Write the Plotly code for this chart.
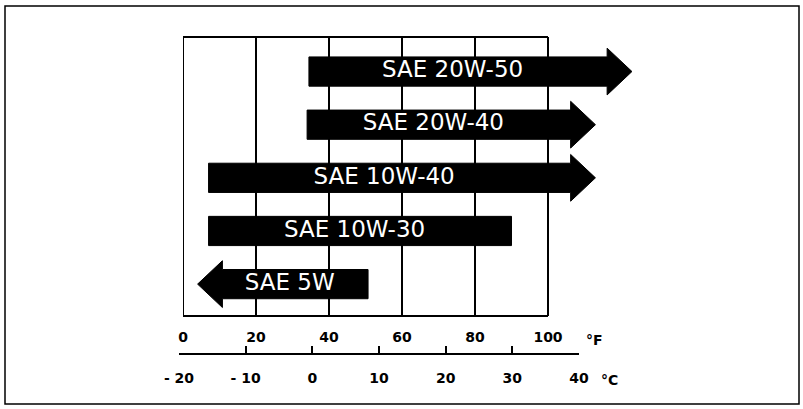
import plotly.graph_objects as go

# ---------------- data ----------------
grades = ["SAE 20W-50", "SAE 20W-40", "SAE 10W-40", "SAE 10W-30", "SAE 5W"]
low_F = [34.5, 34, 7, 7, 4]          # lower end of range (°F)
high_F = [123, 113, 113, 90, 50.7]   # upper end of range (°F)
open_low = [False, False, False, False, True]   # arrow pointing to colder
open_high = [True, True, True, False, False]    # arrow pointing to warmer

f_ticks = [0, 20, 40, 60, 80, 100]
f_labels = ["0", "20", "40", "60", "80", "100"]
c_ticks = [-20, -10, 0, 10, 20, 30, 40]
c_labels = ["- 20", "- 10", "0", "10", "20", "30", "40"]

# ---------------- style / geometry ----------------
W, H = 803, 409
FONT = "DejaVu Sans"
HEAD = 6.8      # arrow head length in °F
BODY_H = 0.275  # half height of bar (row units)
HEAD_H = 0.44   # half height of head (row units)

def px(x):
    return x / W

def py(y):
    return 1 - y / H

fig = go.Figure()

n = len(grades)
rows = list(range(n - 1, -1, -1))

for g, lo, hi, ol, oh, r in zip(grades, low_F, high_F, open_low, open_high, rows):
    b_lo = lo + HEAD if ol else lo
    b_hi = hi - HEAD if oh else hi
    xs = [b_lo, b_hi]
    ys = [r + BODY_H, r + BODY_H]
    if oh:
        xs += [b_hi, hi, b_hi]
        ys += [r + HEAD_H, r, r - HEAD_H]
    xs += [b_hi, b_lo]
    ys += [r - BODY_H, r - BODY_H]
    if ol:
        xs += [b_lo, lo, b_lo]
        ys += [r - HEAD_H, r, r + HEAD_H]
    xs.append(xs[0])
    ys.append(ys[0])
    fig.add_trace(go.Scatter(
        x=xs, y=ys, mode="lines", fill="toself", fillcolor="black",
        line=dict(color="black", width=1), hoverinfo="skip", showlegend=False,
    ))
    fig.add_trace(go.Scatter(
        x=[(b_lo + b_hi) / 2 - 1.5], y=[r], mode="text", text=[g],
        textfont=dict(color="white", size=23, family=FONT),
        textposition="middle center", hoverinfo="skip", showlegend=False,
    ))

# celsius scale (invisible trace so the axis renders)
fig.add_trace(go.Scatter(x=c_ticks, y=[0] * len(c_ticks), mode="markers",
                         marker=dict(opacity=0), xaxis="x2", yaxis="y2",
                         hoverinfo="skip", showlegend=False))

x_right_px = 645
f_scale = (548 - 183) / (f_ticks[-1] - f_ticks[0])
TICKFONT = dict(family=FONT, size=14, color="black", weight="bold")

fig.update_layout(
    template="none",
    width=W, height=H, autosize=False,
    margin=dict(l=0, r=0, t=0, b=0, pad=0),
    paper_bgcolor="white", plot_bgcolor="white",
    xaxis=dict(
        domain=[px(183), px(x_right_px)],
        range=[f_ticks[0], f_ticks[0] + (x_right_px - 183) / f_scale],
        tickvals=f_ticks, ticktext=f_labels,
        showgrid=True, gridcolor="black", gridwidth=1.8,
        zeroline=False, showline=False, ticks="",
        tickfont=TICKFONT, automargin=False,
        ticklabelstandoff=11,
    ),
    yaxis=dict(
        domain=[py(316), py(37)],
        range=[-0.60, 4.65], automargin=False,
        showgrid=False, zeroline=False, showticklabels=False, showline=False,
        ticks="",
    ),
    xaxis2=dict(
        domain=[px(179), px(579)],
        range=[c_ticks[0], c_ticks[-1]],
        anchor="y2", automargin=False,
        tickvals=c_ticks, ticktext=c_labels,
        showgrid=False, zeroline=False,
        showline=True, linecolor="black", linewidth=1.5,
        ticks="inside", ticklen=7, tickwidth=1.5, tickcolor="black",
        tickfont=TICKFONT,
        ticklabelstandoff=11,
    ),
    yaxis2=dict(
        domain=[py(353), py(343)], automargin=False,
        range=[0, 1], visible=False,
    ),
    shapes=[
        # plot frame: top, bottom, left
        dict(type="line", xref="x", yref="y domain", x0=f_ticks[0], x1=f_ticks[-1],
             y0=1, y1=1, line=dict(color="black", width=2)),
        dict(type="line", xref="x", yref="y domain", x0=f_ticks[0], x1=f_ticks[-1],
             y0=0, y1=0, line=dict(color="black", width=2)),
        dict(type="line", xref="x", yref="y domain", x0=f_ticks[0], x1=f_ticks[0],
             y0=0, y1=1, line=dict(color="black", width=2), layer="below"),
        # outer border
        dict(type="rect", xref="paper", yref="paper", x0=px(5), x1=px(799),
             y0=py(404), y1=py(6), line=dict(color="black", width=1.5)),
    ],
    annotations=[
        dict(text="°F", xref="paper", yref="paper", x=px(594), y=py(340),
             xanchor="center", yanchor="middle",
             showarrow=False, font=TICKFONT),
        dict(text="°C", xref="paper", yref="paper", x=px(609), y=py(380),
             xanchor="center", yanchor="middle",
             showarrow=False, font=TICKFONT),
    ],
    showlegend=False,
)

fig.write_html(
    "out.html",
    config={"displayModeBar": False},
    post_script="document.body.style.margin='0';document.body.style.overflow='hidden';",
)
